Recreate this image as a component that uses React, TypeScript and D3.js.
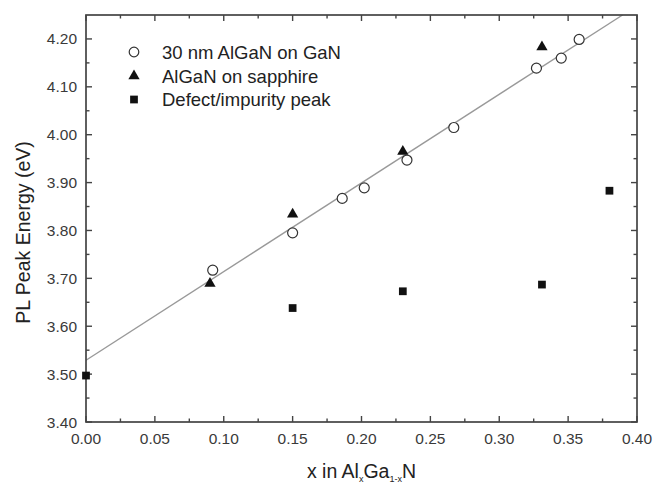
import React from 'react';
import * as d3 from 'd3';

// measured data (x in AlxGa1-xN, PL peak energy in eV)
const onGaNx = [0.092, 0.150, 0.186, 0.202, 0.233, 0.267, 0.327, 0.345, 0.358];
const onGaNy = [3.717, 3.795, 3.867, 3.889, 3.947, 4.015, 4.139, 4.160, 4.199];
const sapphireX = [0.090, 0.150, 0.230, 0.331];
const sapphireY = [3.689, 3.834, 3.965, 4.183];
const defectX = [0.000, 0.150, 0.230, 0.331, 0.380];
const defectY = [3.497, 3.638, 3.673, 3.687, 3.883];
// linear fit drawn through the GaN series
const fitX = [0.0, 0.3895];
const fitY = [3.529, 4.25];

const xTicks = [0, 0.05, 0.1, 0.15, 0.2, 0.25, 0.3, 0.35, 0.4];
const yTicks = [3.4, 3.5, 3.6, 3.7, 3.8, 3.9, 4.0, 4.1, 4.2];
const legendLabels = ['30 nm AlGaN on GaN', 'AlGaN on sapphire', 'Defect/impurity peak'];

const W = 664, H = 483;
const margin = { top: 15, right: 27, bottom: 61, left: 86 };

const App = () => {
  const x = d3.scaleLinear().domain([0, 0.4]).range([margin.left, W - margin.right]);
  const y = d3.scaleLinear().domain([3.4, 4.25]).range([H - margin.bottom, margin.top]);
  const x0 = x.range()[0], x1 = x.range()[1];
  const y0 = y.range()[0], y1 = y.range()[1];
  const axisColor = '#444';
  const textColor = '#3a3a3a';
  const font = 'Liberation Sans, Arial, sans-serif';

  const xMinor = d3.range(0.025, 0.4, 0.05);
  const yMinor = d3.range(3.45, 4.25, 0.1);

  const line = d3.line<number>().x((_, i) => x(fitX[i])).y((d) => y(d));
  const tri = d3.symbol(d3.symbolTriangle, 55);
  const sq = d3.symbol(d3.symbolSquare, 60);

  const legendY = [52, 76, 99.5];

  return (
    <svg width={W} height={H} style={{ position: 'absolute', left: 0, top: 0, background: '#fff' }} fontFamily={font}>
      <rect width={W} height={H} fill="#fff" />
      {/* fit line */}
      <path d={line(fitY) || ''} stroke="#999" strokeWidth={1.4} fill="none" />

      {/* frame */}
      <rect x={x0} y={y1} width={x1 - x0} height={y0 - y1} fill="none" stroke={axisColor} strokeWidth={1.7} />

      {/* ticks, inward on all sides */}
      {xTicks.map((t) => (
        <g key={'xt' + t}>
          <line x1={x(t)} x2={x(t)} y1={y0} y2={y0 - 6} stroke={axisColor} strokeWidth={1.4} />
          <line x1={x(t)} x2={x(t)} y1={y1} y2={y1 + 6} stroke={axisColor} strokeWidth={1.4} />
          <text x={x(t)} y={y0 + 22} textAnchor="middle" fontSize={15.5} fill={textColor}>{t.toFixed(2)}</text>
        </g>
      ))}
      {xMinor.map((t) => (
        <g key={'xm' + t}>
          <line x1={x(t)} x2={x(t)} y1={y0} y2={y0 - 3.5} stroke={axisColor} strokeWidth={1.4} />
          <line x1={x(t)} x2={x(t)} y1={y1} y2={y1 + 3.5} stroke={axisColor} strokeWidth={1.4} />
        </g>
      ))}
      {yTicks.map((t) => (
        <g key={'yt' + t}>
          <line x1={x0} x2={x0 + 6} y1={y(t)} y2={y(t)} stroke={axisColor} strokeWidth={1.4} />
          <line x1={x1} x2={x1 - 6} y1={y(t)} y2={y(t)} stroke={axisColor} strokeWidth={1.4} />
          <text x={x0 - 9} y={y(t) + 5.5} textAnchor="end" fontSize={15.5} fill={textColor}>{t.toFixed(2)}</text>
        </g>
      ))}
      {yMinor.map((t) => (
        <g key={'ym' + t}>
          <line x1={x0} x2={x0 + 3.5} y1={y(t)} y2={y(t)} stroke={axisColor} strokeWidth={1.4} />
          <line x1={x1} x2={x1 - 3.5} y1={y(t)} y2={y(t)} stroke={axisColor} strokeWidth={1.4} />
        </g>
      ))}

      {/* data */}
      {defectX.map((d, i) => (
        <path key={'d' + i} d={sq() || ''} transform={`translate(${x(d)},${y(defectY[i])})`} fill="#111" />
      ))}
      {sapphireX.map((d, i) => (
        <path key={'s' + i} d={tri() || ''} transform={`translate(${x(d)},${y(sapphireY[i])})`} fill="#111" />
      ))}
      {onGaNx.map((d, i) => (
        <circle key={'c' + i} cx={x(d)} cy={y(onGaNy[i])} r={5} fill="#fff" stroke="#333" strokeWidth={1.2} />
      ))}

      {/* legend */}
      <g>
        <circle cx={134} cy={legendY[0]} r={4.8} fill="#fff" stroke="#333" strokeWidth={1.2} />
        <path d={tri() || ''} transform={`translate(134,${legendY[1]})`} fill="#111" />
        <path d={sq() || ''} transform={`translate(134,${legendY[2]})`} fill="#111" />
        {legendLabels.map((l, i) => (
          <text key={l} x={162} y={legendY[i] + 6.5} fontSize={18.5} fill="#222">{l}</text>
        ))}
      </g>

      {/* axis titles */}
      <text transform={`translate(30,${(y0 + y1) / 2 + 14}) rotate(-90)`} textAnchor="middle" fontSize={19.5} fill="#222">
        PL Peak Energy (eV)
      </text>
      <text x={(x0 + x1) / 2} y={478} textAnchor="middle" fontSize={19.5} fill="#222">
        x in Al<tspan fontSize={9} dy={4}>x</tspan><tspan dy={-4}>Ga</tspan>
        <tspan fontSize={9} dy={4}>1-x</tspan><tspan dy={-4}>N</tspan>
      </text>
    </svg>
  );
};

export default App;
